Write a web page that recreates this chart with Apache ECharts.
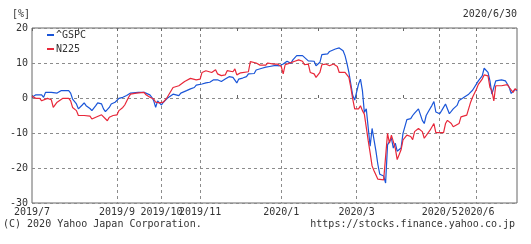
<!DOCTYPE html>
<html>
<head>
<meta charset="utf-8">
<script src="https://cdn.jsdelivr.net/npm/echarts@6/dist/echarts.min.js"></script>
<style>
html,body{margin:0;padding:0;background:#fff;}
#c{width:531px;height:244px;}
</style>
</head>
<body>
<div id="c"></div>
<script>
// ---- data (x = trading-day index from 2019/7/1, y = % change) ----
const monthLabels   = ['2019/7','2019/8','2019/9','2019/10','2019/11','2019/12','2020/1','2020/2','2020/3','2020/4','2020/5','2020/6'];
const monthStartDay = [0, 24, 44, 67, 87, 106, 129, 148, 168, 192, 211, 230];
const labeledMonths = ['2019/7','2019/9','2019/10','2019/11','2020/1','2020/3','2020/5','2020/6'];
const gridMonths    = ['2019/9','2019/10','2019/11','2020/1','2020/3','2020/5','2020/6'];
const yTicks = [-30, -20, -10, 0, 10, 20];

const gspcDays = [0,2,5,6,7,10,11,13,15,19,20,21,23,24,26,27,28,30,31,33,34,36,37,38,40,41,43,44,45,47,49,51,55,58,59,61,62,63,64,65,66,67,68,70,71,73,74,76,77,78,80,82,84,85,88,90,92,94,96,98,100,102,104,106,107,109,111,112,115,116,119,121,123,126,127,128,130,132,134,135,137,140,141,143,144,146,147,148,149,150,153,154,155,157,159,161,162,163,164,165,166,167,168,169,170,171,172,173,174,175,176,177,178,179,180,182,183,184,185,186,187,188,189,190,191,192,194,196,197,198,200,202,203,204,205,207,208,209,211,212,214,215,216,218,220,221,222,223,226,228,229,231,233,234,235,236,237,238,239,240,241,243,245,246,247,248,250,251];
const gspcVals = [0.2,0.9,0.9,0.2,1.6,1.6,1.1,1.4,2.1,2.1,1.4,-0.3,-1.7,-3.1,-2.0,-1.4,-2.2,-3.0,-3.6,-2.2,-1.4,-1.7,-3.1,-3.9,-2.7,-1.7,-1.2,-1.7,-0.1,0.2,0.7,1.4,1.6,1.6,1.4,0.9,0.2,-0.8,-2.7,-0.8,-0.8,-2.0,-1.2,-0.1,0.2,1.1,0.9,0.7,1.4,1.6,2.1,2.6,3.0,3.7,4.0,4.3,4.5,5.2,5.2,4.7,5.4,6.1,5.9,4.3,5.4,5.7,6.1,6.9,7.0,8.0,8.5,8.8,9.0,9.3,9.7,9.2,9.7,10.5,9.9,10.9,12.1,12.1,11.6,10.6,10.2,10.5,9.2,8.9,10.2,12.4,12.6,13.3,13.7,14.0,14.3,13.5,12.1,9.9,7.3,4.0,0.7,-0.6,-0.6,4.0,5.4,2.1,-4.1,-3.1,-8.5,-13.8,-8.7,-9.2,-15.2,-19.0,-21.8,-22.3,-24.3,-13.4,-13.8,-11.5,-14.3,-12.9,-15.2,-15.2,-14.3,-10.1,-6.2,-5.9,-5.0,-4.3,-3.1,-6.4,-7.3,-5.0,-4.0,-2.1,-1.0,-4.0,-4.5,-3.6,-1.7,-1.2,-4.5,-3.1,-2.1,-0.7,-0.3,0.0,1.1,2.2,2.5,4.9,6.3,8.5,8.8,7.3,4.9,1.1,3.0,4.9,4.5,5.2,4.9,4.0,3.0,1.3,2.5,2.1];

const n225Days = [0,2,4,5,8,10,11,13,14,16,19,20,21,23,24,25,27,28,30,31,33,34,36,37,39,40,42,44,45,47,48,50,51,54,58,59,61,63,64,66,67,68,70,71,73,74,76,77,79,80,82,83,85,87,88,90,91,93,94,95,96,98,100,101,102,104,105,106,108,109,112,113,114,116,118,121,122,125,127,129,130,131,133,136,138,140,141,143,144,146,147,148,149,150,152,154,156,158,159,160,162,164,165,166,167,169,170,171,172,173,174,175,176,177,179,182,183,184,185,186,187,188,189,190,191,192,194,196,197,198,199,200,202,203,204,206,207,208,209,213,214,215,217,218,221,222,223,225,227,228,230,231,233,234,235,236,237,238,239,240,243,246,247,249,250,251];
const n225Vals = [0.5,-0.1,-0.1,-0.8,-0.1,-0.5,-2.7,-1.2,-1.0,-0.1,-0.1,-0.8,-2.7,-3.6,-5.0,-5.5,-5.0,-4.8,-5.2,-6.0,-5.5,-5.0,-4.8,-5.2,-6.5,-5.5,-5.0,-4.8,-3.6,-2.7,-2.0,0.2,1.1,1.4,1.6,0.9,0.2,-0.3,-1.2,-1.4,-1.7,-1.2,0.2,0.7,3.0,3.5,3.5,4.0,4.7,5.2,5.6,5.2,5.2,5.4,7.3,7.8,8.0,7.3,7.1,8.1,6.9,6.4,6.6,7.8,7.5,7.5,8.3,6.6,7.2,7.5,7.5,10.4,10.7,10.0,9.4,9.4,10.0,9.7,9.7,9.0,6.9,9.5,9.9,10.5,10.9,10.5,9.5,9.7,7.3,6.9,5.9,6.4,7.3,9.5,9.7,9.2,9.7,9.0,7.3,7.8,7.3,5.9,3.0,-0.3,-3.1,-3.1,-2.2,-3.6,-4.6,-8.4,-12.2,-15.7,-19.4,-20.8,-23.2,-23.4,-23.2,-10.1,-12.9,-10.6,-11.0,-14.3,-17.6,-17.8,-14.8,-12.0,-10.6,-11.0,-11.9,-9.6,-10.1,-8.7,-9.6,-11.5,-11.0,-9.2,-8.7,-7.3,-9.9,-9.9,-7.3,-6.4,-7.3,-8.2,-7.3,-5.4,-4.9,-4.9,-1.2,0.2,2.5,3.9,5.4,6.6,6.7,6.3,3.0,2.1,-0.8,3.5,3.5,3.8,3.0,1.6,2.6,2.3];

const seriesNames = ['^GSPC', 'N225'];
const seriesColors = ['#1a55d8', '#e8283a'];

// ---- chart ----
const FONT = '"DejaVu Sans Mono", "Liberation Mono", monospace';
const TXT = '#333';
const dayOf = m => monthStartDay[monthLabels.indexOf(m)];
const labelFor = v => { const i = monthStartDay.indexOf(Math.round(v)); return i >= 0 ? monthLabels[i] : ''; };
const xMin = 0, xMax = 251;

const chart = echarts.init(document.getElementById('c'), null, {renderer: 'canvas'});
chart.setOption({
  animation: false,
  backgroundColor: '#fff',
  textStyle: {fontFamily: FONT},
  grid: {left: 32, right: 14, top: 28, bottom: 41, show: true, borderColor: '#666', borderWidth: 1, backgroundColor: 'transparent'},
  graphic: [
    {type: 'text', left: 12, top: 9, style: {text: '[%]', font: '10px ' + FONT, fill: TXT}},
    {type: 'text', right: 14, top: 9, style: {text: '2020/6/30', font: '10px ' + FONT, fill: TXT}},
    {type: 'text', left: 3, top: 219, style: {text: '(C) 2020 Yahoo Japan Corporation.', font: '10px ' + FONT, fill: TXT}},
    {type: 'text', right: 16, top: 219, style: {text: 'https://stocks.finance.yahoo.co.jp', font: '10px ' + FONT, fill: TXT}}
  ],
  legend: {
    left: 42, top: 24, orient: 'vertical', itemWidth: 7, itemHeight: 2, itemGap: 2,
    icon: 'rect',
    textStyle: {fontFamily: FONT, fontSize: 10, color: TXT, lineHeight: 12, padding: [0,0,0,-3]},
    data: seriesNames
  },
  xAxis: [
    {
      type: 'value', min: xMin, max: xMax, position: 'bottom',
      axisLine: {show: false},
      axisTick: {show: true, inside: true, length: 3, lineStyle: {color: '#666'}, customValues: monthStartDay},
      axisLabel: {show: true, fontFamily: FONT, fontSize: 10, color: TXT, margin: 4, hideOverlap: false,
                  customValues: labeledMonths.map(dayOf), formatter: v => labelFor(v)},
      splitLine: {show: false}
    },
    {
      type: 'value', min: xMin, max: xMax, position: 'top',
      axisLine: {show: false},
      axisTick: {show: true, inside: true, length: 3, lineStyle: {color: '#666'}, customValues: monthStartDay},
      axisLabel: {show: false},
      splitLine: {show: false}
    },
    {
      type: 'value', min: xMin, max: xMax, position: 'bottom',
      axisLine: {show: false},
      axisTick: {show: false, customValues: gridMonths.map(dayOf)},
      axisLabel: {show: false},
      splitLine: {show: true, lineStyle: {color: '#8c8c8c', type: [3, 3], width: 1}}
    }
  ],
  yAxis: {
    type: 'value', min: yTicks[0], max: yTicks[yTicks.length - 1], interval: 10,
    axisLine: {show: false}, axisTick: {show: false},
    axisLabel: {fontFamily: FONT, fontSize: 10, color: TXT, margin: 4},
    splitLine: {show: true, lineStyle: {color: '#8c8c8c', type: [3, 3], width: 1}}
  },
  series: [
    {name: seriesNames[0], type: 'line', xAxisIndex: 0, showSymbol: false, color: seriesColors[0],
     lineStyle: {width: 1.2, color: seriesColors[0]},
     data: gspcDays.map((d, i) => [d, gspcVals[i]])},
    {name: seriesNames[1], type: 'line', xAxisIndex: 0, showSymbol: false, color: seriesColors[1],
     lineStyle: {width: 1.2, color: seriesColors[1]},
     data: n225Days.map((d, i) => [d, n225Vals[i]])}
  ]
});
</script>
</body>
</html>
